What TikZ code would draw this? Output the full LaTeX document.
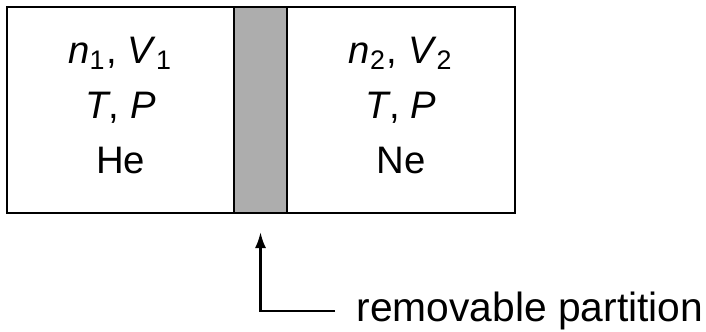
\documentclass[tikz,border=0pt]{standalone}
\usepackage{fontspec}
\setmainfont{Liberation Sans}
\usetikzlibrary{arrows.meta,positioning}

\begin{document}
\begin{tikzpicture}[x=0.1mm,y=-0.1mm,
    chamber/.style={rectangle, draw, line width=0.7pt, outer sep=0pt, inner sep=0pt, minimum width=22.7mm, minimum height=20.6mm, align=center, text depth=1mm, font=\fontsize{10.9}{15.6}\selectfont},
    partition/.style={rectangle, draw, line width=0.7pt, outer sep=0pt, inner sep=0pt, fill=black!32, minimum width=5.3mm, minimum height=20.6mm},
    arrow/.style={-{Latex[length=1.6mm,width=1.1mm]}, line width=0.7pt}
]
    \useasboundingbox (0,0) rectangle (706,331);

    % Partition and gas chambers
    \node[partition] (part) at (260.5,110) {};
    \node[chamber, left=0pt of part] (left) {\textit{n}\textsubscript{1}, \textit{V}\textsubscript{1}\\ \textit{T}, \textit{P}\\ He};
    \node[chamber, right=0pt of part, minimum width=22.8mm] (right) {\textit{n}\textsubscript{2}, \textit{V}\textsubscript{2}\\ \textit{T}, \textit{P}\\ Ne};

    % Label
    \node[anchor=west, inner sep=0pt, font=\fontsize{11.6}{13}\selectfont] (lbl) at (356,311) {removable partition};

    % Connection
    \draw[arrow, shorten <=2.1mm, shorten >=1.9mm] (lbl.west) -| (part.south);

\end{tikzpicture}
\end{document}
